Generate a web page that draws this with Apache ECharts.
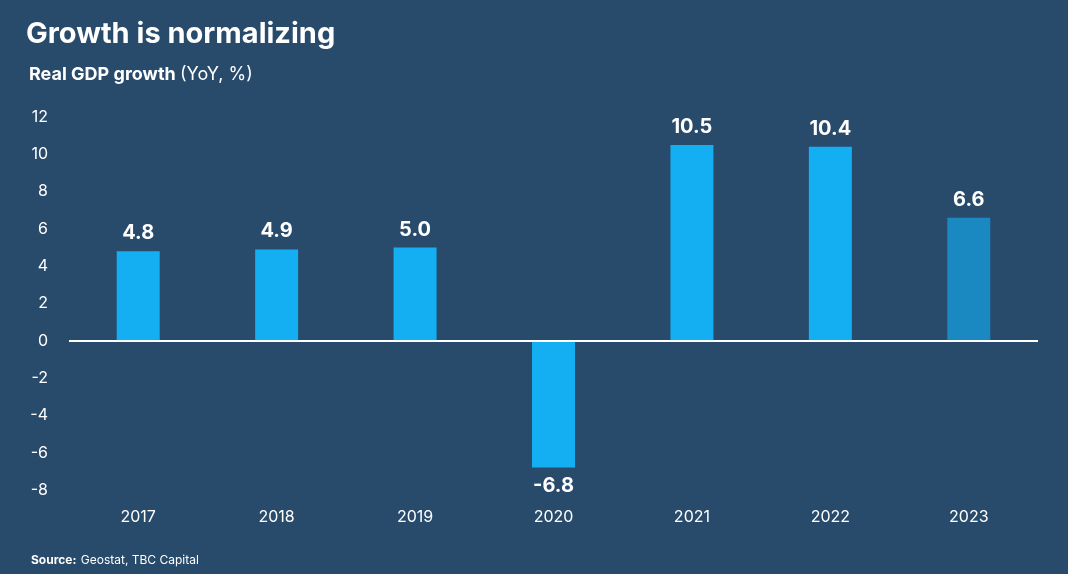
<!DOCTYPE html>
<html>
<head>
<meta charset="utf-8">
<script src="https://cdn.jsdelivr.net/npm/echarts@6/dist/echarts.min.js"></script>
<style>
html, body { margin: 0; padding: 0; background: #284a6b; }
#chart { width: 1068px; height: 574px; }
</style>
</head>
<body>
<div id="chart"></div>
<script>
var years = ["2017", "2018", "2019", "2020", "2021", "2022", "2023"];
var growth = [4.8, 4.9, 5.0, -6.8, 10.5, 10.4, 6.6];
var barColors = ["#14aff2", "#14aff2", "#14aff2", "#14aff2", "#14aff2", "#14aff2", "#1a89c1"];

var chart = echarts.init(document.getElementById("chart"));

var barData = growth.map(function (v, i) {
    return {
        value: v,
        itemStyle: { color: barColors[i] },
        label: { position: v < 0 ? "bottom" : "top" }
    };
});

var option = {
    backgroundColor: "#284a6b",
    textStyle: { fontFamily: "Inter" },
    title: [{
        text: "Growth is normalizing",
        left: 21,
        top: 15,
        textStyle: { color: "#fff", fontSize: 29, fontWeight: "bold", fontFamily: "Inter" }
    }, {
        text: "{b|Real GDP growth} {r|(YoY, %)}",
        left: 24,
        top: 61,
        textStyle: {
            rich: {
                b: { color: "#fff", fontSize: 18, fontWeight: "bold", fontFamily: "Inter" },
                r: { color: "#fff", fontSize: 18, fontWeight: "normal", fontFamily: "Inter" }
            }
        }
    }, {
        text: "{b|Source:} {r|Geostat, TBC Capital}",
        left: 26,
        top: 546,
        textStyle: {
            rich: {
                b: { color: "#fff", fontSize: 12, fontWeight: "bold", fontFamily: "Inter" },
                r: { color: "#fff", fontSize: 12, fontWeight: "normal", fontFamily: "Inter" }
            }
        }
    }],
    grid: { left: 69, right: 30, top: 117, bottom: 84 },
    xAxis: {
        type: "category",
        data: years,
        axisLine: { show: false },
        axisTick: { show: false },
        axisLabel: { color: "#fff", fontSize: 16, margin: 19 }
    },
    yAxis: {
        type: "value",
        min: -8,
        max: 12,
        interval: 2,
        splitLine: { show: false },
        axisLine: { show: false },
        axisTick: { show: false },
        axisLabel: { color: "#fff", fontSize: 16, margin: 21 }
    },
    series: [{
        type: "bar",
        data: barData,
        barWidth: 43,
        label: {
            show: true,
            color: "#fff",
            fontSize: 20,
            fontWeight: "bold",
            distance: 8,
            formatter: function (p) { return p.value.toFixed(1); }
        },
        markLine: {
            silent: true,
            symbol: "none",
            label: { show: false },
            lineStyle: { color: "#fff", width: 2, type: "solid" },
            data: [{ yAxis: 0 }]
        }
    }]
};

chart.setOption(option);
</script>
</body>
</html>
